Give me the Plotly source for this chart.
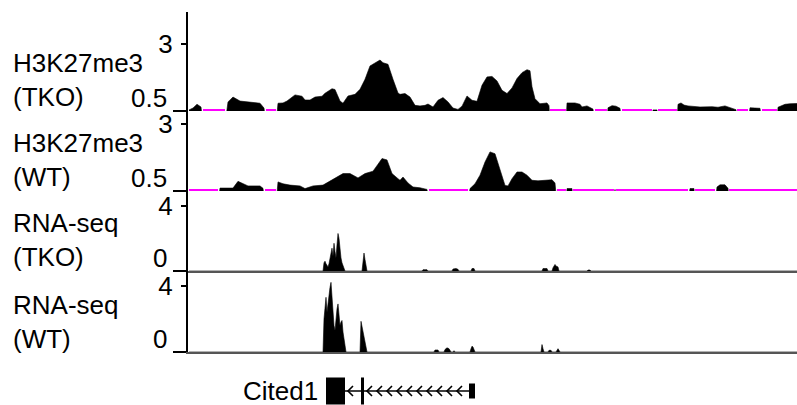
import plotly.graph_objects as go

# ---------------- data (positions are genomic bins along the locus) ----------------
k27_tko = [(189,0.54),(193,0.61),(197,0.75),(201,0.65),(203,0),(225,0),(228,0.84),(233,1.02),
           (240,0.87),(250,0.84),(260,0.79),(264,0.61),(266,0),(276,0),(278,0.79),(283,0.80),
           (287,0.87),(295,1.10),(302,1.05),(305,0.91),(310,0.91),(315,1.02),(322,1.05),(325,1.16),
           (332,1.33),(335,1.30),(340,0.87),(343,0.79),(348,1.06),(355,1.12),(360,1.31),(365,1.68),
           (370,2.18),(375,2.29),(380,2.40),(383,2.30),(388,2.24),(393,1.68),(398,1.17),(400,1.12),
           (405,1.15),(410,1.02),(415,0.71),(420,0.69),(425,0.71),(428,0.76),(433,0.65),(438,0.90),
           (443,1.00),(448,0.84),(453,0.61),(458,0.56),(462,0.68),(467,1.06),(472,0.90),(477,0.86),
           (482,1.46),(487,1.77),(492,1.79),(497,1.62),(502,1.27),(507,1.15),(512,1.36),(517,1.71),
           (522,1.93),(527,2.04),(530,2.00),(532,1.40),(535,0.96),(540,0.77),(547,0.80),(549,0.70),
           (550,0),(566,0),(567,0.80),(575,0.80),(580,0.75),(582,0.65),(587,0.69),(593,0.57),
           (595,0),(607,0),(608,0.62),(612,0.70),(616,0.68),(620,0.60),(622,0),(652,0),(653,0.54),
           (657,0.54),(658,0),(677,0),(678,0.75),(681,0.80),(684,0.72),(688,0.69),(700,0.65),
           (712,0.66),(718,0.64),(725,0.69),(733,0.57),(736,0.55),(737,0),(748,0),(750,0.62),
           (755,0.62),(760,0.60),(762,0),(777,0),(778,0.64),(785,0.75),(790,0.77),(797,0.78)]

k27_wt = [(189,0),(218,0),(220,0.61),(233,0.61),(238,0.86),(243,0.77),(248,0.69),(260,0.69),
          (263,0.60),(265,0),(276,0),(278,0.84),(283,0.77),(290,0.72),(300,0.69),(305,0.59),
          (313,0.69),(323,0.72),(330,0.86),(337,1.02),(343,1.15),(350,1.15),(358,0.99),(365,1.15),
          (373,1.24),(378,1.50),(382,1.71),(387,1.66),(392,1.15),(398,0.96),(400,0.90),(403,1.02),
          (408,0.80),(413,0.65),(420,0.62),(427,0.56),(429,0),(468,0),(470,0.59),(475,0.77),
          (480,1.09),(485,1.58),(490,1.96),(495,1.89),(500,1.33),(505,0.71),(508,0.69),(512,0.96),
          (517,1.21),(522,1.21),(527,1.09),(532,0.90),(538,0.88),(547,0.90),(552,0.92),(555,0.80),
          (557,0),(566,0),(567,0.59),(572,0.59),(573,0),(614,0),(615,0.56),(616,0),(688,0),
          (690,0.59),(694,0.59),(695,0),(715,0),(717,0.65),(720,0.73),(725,0.73),(728,0.60),
          (729,0),(797,0)]

rna_tko = [(189,0),(323,0),(324,0.5),(325,0.6),(326,0.45),(327,0.3),(328,0.25),(329,0.45),
           (330,0.8),(331,1.1),(332,1.4),(333,0.9),(334,1.7),(335,1.2),(336,0.8),(337,1.6),
           (338,2.3),(339,2.0),(340,1.3),(341,0.8),(342,0.5),(343,0.35),(344,0.2),(345,0),
           (362,0),(363,0.5),(364,1.1),(365,0.7),(366,0.2),(367,0),
           (422,0),(423,0.08),(427,0.08),(428,0),(452,0),(453,0.12),(456,0.15),(458,0.1),(459,0),
           (471,0),(472,0.15),(474,0.15),(475,0),(542,0),(543,0.15),(547,0.15),(548,0),
           (552,0),(553,0.2),(554,0.3),(555,0.4),(556,0.3),(558,0.25),(559,0),
           (587,0),(588,0.06),(590,0.06),(591,0),(797,0)]

rna_wt = [(189,0),(323,0),(324,2.0),(325,3.0),(326,3.3),(327,2.4),(328,3.0),(329,3.6),(330,3.9),
          (331,4.2),(332,3.2),(333,2.0),(334,1.6),(335,1.3),(336,2.2),(337,2.6),(338,2.9),
          (339,2.0),(340,1.6),(341,1.8),(342,1.9),(343,1.2),(344,0.9),(345,0.4),(346,0),
          (360,0),(361,1.85),(362,1.5),(363,1.2),(364,0.9),(365,0.5),(366,0.2),(367,0),
          (434,0),(435,0.12),(438,0.12),(439,0),(444,0),(445,0.15),(447,0.25),(449,0.2),(450,0.1),(451,0),
          (453,0),(454,0.08),(455,0),(470,0),(471,0.2),(472,0.35),(473,0.3),(474,0.15),(475,0),
          (541,0),(542,0.45),(543,0.2),(544,0),(548,0),(549,0.1),(551,0.1),(552,0),
          (556,0),(557,0.15),(558,0.2),(559,0.1),(560,0),(797,0)]

track_labels = ["H3K27me3<br>(TKO)", "H3K27me3<br>(WT)", "RNA-seq<br>(TKO)", "RNA-seq<br>(WT)"]
track_base = [0.5, 0.5, 0, 0]
track_base_text = ["0.5", "0.5", "0", "0"]
track_top = [3, 3, 4, 4]
track_ymax = [4.19, 3.485, 4.90, 4.886]

gene_name = "Cited1"
exon_start = [326, 361, 469]
exon_end = [345, 364, 475]
exon_tall = [True, True, False]
intron_start, intron_end = 345, 469
chevron_tips = [348, 367, 377, 387, 397, 407, 417, 427, 437, 447, 457]

X_RANGE = [188, 797]

# ---------------- layout geometry ----------------
domains = [[0.7481, 1.0], [0.5445, 0.7481], [0.3410, 0.5445], [0.1349, 0.3410]]
gene_domain = [0.0, 0.1349]
label_y = [0.826, 0.624, 0.419, 0.210]
FONT = "Liberation Sans, Arial, sans-serif"
px_per_unit = [26.8, 26.8, 16.33, 16.58]

fig = go.Figure()
series = [k27_tko, k27_wt, rna_tko, rna_wt]
for i, s in enumerate(series):
    xa = "x" if i == 0 else f"x{i+1}"
    ya = "y" if i == 0 else f"y{i+1}"
    xs = [p for p, v in s]
    vs = [v for p, v in s]
    fig.add_trace(go.Scatter(x=xs, y=vs, mode="lines", fill="tozeroy", fillcolor="black",
                             line=dict(color="black", width=0.6), xaxis=xa, yaxis=ya,
                             hoverinfo="skip"))
    if i < 2:
        base = track_base[i]
        eps = 1.0 / px_per_unit[i]
        my = [base + eps if v <= base else None for v in vs]
        fig.add_trace(go.Scatter(x=xs, y=my, mode="lines", connectgaps=False,
                                 line=dict(color="#ff00ff", width=2), xaxis=xa, yaxis=ya,
                                 hoverinfo="skip"))

# gene model
gy_tall, gy_short, gy_chev = 13.5, 7.5, 5
fig.add_trace(go.Scatter(x=[intron_start, intron_end], y=[0, 0], mode="lines",
                         line=dict(color="black", width=1.5), xaxis="x5", yaxis="y5", hoverinfo="skip"))
cx, cy = [], []
for t in chevron_tips:
    cx += [t + 5, t, t + 5, None]
    cy += [gy_chev, 0, -gy_chev, None]
fig.add_trace(go.Scatter(x=cx, y=cy, mode="lines", line=dict(color="black", width=1.6),
                         xaxis="x5", yaxis="y5", hoverinfo="skip"))
for s0, s1, tall in zip(exon_start, exon_end, exon_tall):
    h = gy_tall if tall else gy_short
    fig.add_shape(type="rect", xref="x5", yref="y5", x0=s0, x1=s1, y0=-h, y1=h,
                  fillcolor="black", line=dict(width=0))

layout = dict(width=797, height=405, margin=dict(l=188, r=0, t=12, b=0),
              plot_bgcolor="white", paper_bgcolor="white", showlegend=False,
              font=dict(family=FONT, size=26, color="black"))
for i in range(4):
    sfx = "" if i == 0 else str(i + 1)
    layout["xaxis" + sfx] = dict(range=X_RANGE, domain=[0, 1], anchor="y" + sfx,
                                 showticklabels=False, ticks="", showgrid=False, zeroline=False,
                                 showline=(i >= 2), linecolor="#555555", linewidth=1.5)
    layout["yaxis" + sfx] = dict(range=[track_base[i], track_ymax[i]], domain=domains[i],
                                 anchor="x" + sfx, tickmode="array", tickvals=[track_top[i]],
                                 ticktext=[str(track_top[i])], ticks="outside", ticklen=5,
                                 tickwidth=2, tickcolor="black", showline=True, linecolor="black",
                                 linewidth=2, showgrid=False, zeroline=False, ticklabelstandoff=3,
                                 tickfont=dict(family=FONT, size=26, color="black"),
                                 minor=dict(tickmode="array", tickvals=[track_base[i]], ticks="outside",
                                            ticklen=13, tickwidth=2, tickcolor="black", showgrid=False))
layout["xaxis5"] = dict(range=X_RANGE, domain=[0, 1], anchor="y5", visible=False)
layout["yaxis5"] = dict(range=[-14, 39], domain=gene_domain, anchor="x5", visible=False)
fig.update_layout(**layout)

ann = []
for i in range(4):
    ya = "y" if i == 0 else f"y{i+1}"
    ann.append(dict(text=track_labels[i], xref="paper", yref="paper", x=-0.291, y=label_y[i],
                    xanchor="left", yanchor="middle", align="left", showarrow=False,
                    font=dict(family=FONT, size=26, color="black")))
    ann.append(dict(text=track_base_text[i], xref="paper", yref=ya, x=-0.0312, y=track_base[i],
                    yshift=13, xanchor="right", yanchor="middle", showarrow=False,
                    font=dict(family=FONT, size=26, color="black")))
ann.append(dict(text=gene_name, xref="x5", yref="y5", x=exon_start[0] - 6, y=0, xanchor="right",
                yanchor="middle", showarrow=False, font=dict(family=FONT, size=26, color="black")))
fig.update_layout(annotations=ann)

fig.write_html("out.html", config={"displayModeBar": False},
               post_script="document.body.style.margin='0px';")
